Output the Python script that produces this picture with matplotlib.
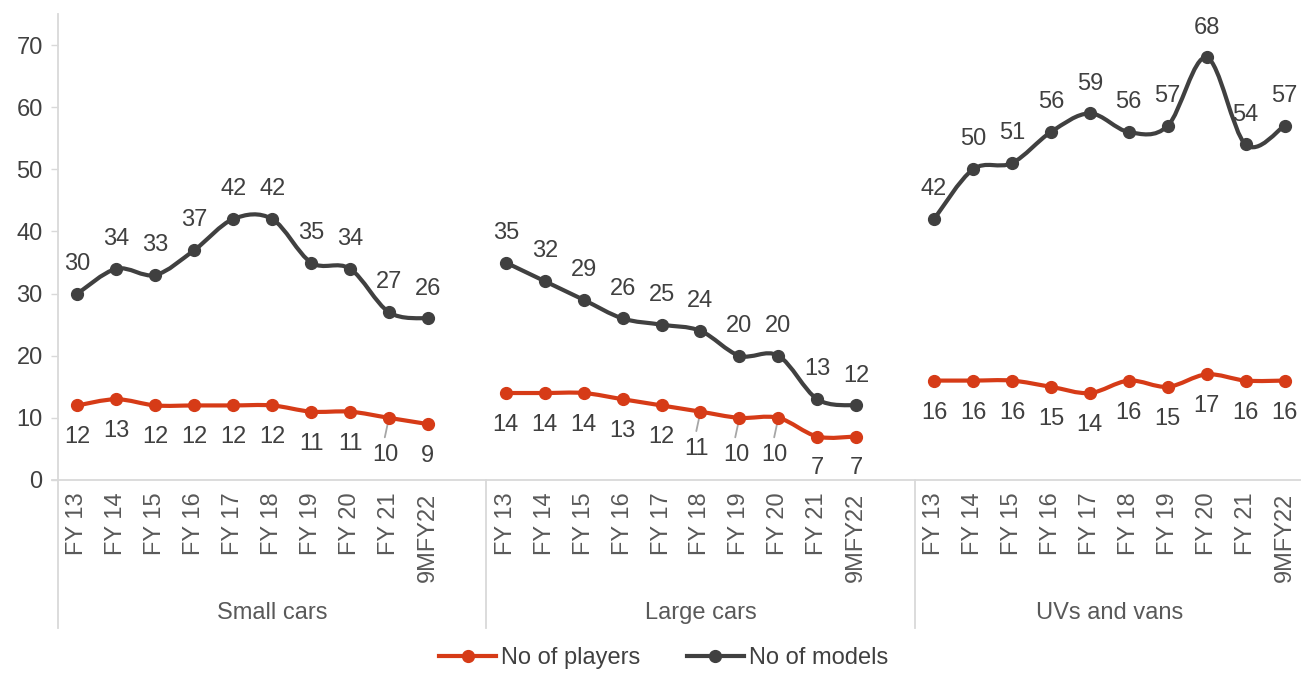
"""Players and models per car segment, FY13 to 9MFY22."""

import matplotlib

matplotlib.use("Agg")
import matplotlib.pyplot as plt
from matplotlib.lines import Line2D
from matplotlib.patches import PathPatch
from matplotlib.path import Path

plt.rcParams["font.family"] = ["Liberation Sans", "DejaVu Sans"]

PERIODS = ["FY 13", "FY 14", "FY 15", "FY 16", "FY 17", "FY 18", "FY 19", "FY 20", "FY 21", "9MFY22"]
SEGMENTS = ["Small cars", "Large cars", "UVs and vans"]

small_players = [12, 13, 12, 12, 12, 12, 11, 11, 10, 9]
small_models = [30, 34, 33, 37, 42, 42, 35, 34, 27, 26]
large_players = [14, 14, 14, 13, 12, 11, 10, 10, 7, 7]
large_models = [35, 32, 29, 26, 25, 24, 20, 20, 13, 12]
uv_players = [16, 16, 16, 15, 14, 16, 15, 17, 16, 16]
uv_models = [42, 50, 51, 56, 59, 56, 57, 68, 54, 57]

PLAYERS_COLOR = "#D63B17"
MODELS_COLOR = "#404040"
TEXT_COLOR = "#404040"
AXIS_COLOR = "#D9D9D9"
FS = 17


def smooth_path(xs, ys):
    # Catmull-Rom style bezier, like spreadsheet "smoothed line"
    pts = list(zip(xs, ys))
    verts = [pts[0]]
    codes = [Path.MOVETO]
    n = len(pts)
    for i in range(n - 1):
        p0 = pts[max(i - 1, 0)]
        p1 = pts[i]
        p2 = pts[i + 1]
        p3 = pts[min(i + 2, n - 1)]
        c1 = (p1[0] + (p2[0] - p0[0]) / 6, p1[1] + (p2[1] - p0[1]) / 6)
        c2 = (p2[0] - (p3[0] - p1[0]) / 6, p2[1] - (p3[1] - p1[1]) / 6)
        verts += [c1, c2, p2]
        codes += [Path.CURVE4] * 3
    return Path(verts, codes)


fig = plt.figure(figsize=(13.01, 6.73), dpi=100)
ax = fig.add_axes([58 / 1301, 1 - 480 / 673, 1246 / 1301, 466 / 673])

groups = [
    (small_players, small_models, {8}),
    (large_players, large_models, {5, 6, 7}),
    (uv_players, uv_models, set()),
]

for g, (players, models, leader_idx) in enumerate(groups):
    xs = [g * 11 + i for i in range(len(PERIODS))]
    for vals, color in ((players, PLAYERS_COLOR), (models, MODELS_COLOR)):
        ax.add_patch(PathPatch(smooth_path(xs, vals), facecolor="none", edgecolor=color,
                               linewidth=3, capstyle="round", joinstyle="round", zorder=3))
        ax.plot(xs, vals, "o", color=color, markersize=8.5, zorder=4)
    for i, (x, v) in enumerate(zip(xs, models)):
        ax.annotate(str(v), (x, v), xytext=(0, 21.5), textcoords="offset points",
                    ha="center", va="center", fontsize=FS, color=TEXT_COLOR)
    for i, (x, v) in enumerate(zip(xs, players)):
        if i in leader_idx:
            ax.annotate(str(v), (x, v), xytext=(-2.5, -27), textcoords="offset points",
                        ha="center", va="center", fontsize=FS, color=TEXT_COLOR)
            ax.annotate("", (x, v), xytext=(-3, -14), textcoords="offset points",
                        arrowprops=dict(arrowstyle="-", color="#A6A6A6", lw=1.3,
                                        shrinkA=0, shrinkB=1))
        else:
            ax.annotate(str(v), (x, v), xytext=(0, -23), textcoords="offset points",
                        ha="center", va="center", fontsize=FS, color=TEXT_COLOR)

ax.set_xlim(-0.5, 31.5)
ax.set_ylim(0, 75)
ax.set_yticks(range(0, 80, 10))
ax.tick_params(axis="y", length=5, width=1, color=AXIS_COLOR, labelsize=FS,
               labelcolor=TEXT_COLOR, pad=6)
ax.set_xticks([])
for side in ("top", "right"):
    ax.spines[side].set_visible(False)
for side in ("left", "bottom"):
    ax.spines[side].set_color(AXIS_COLOR)
    ax.spines[side].set_linewidth(1.3)
ax.spines["bottom"].set_bounds(-0.65, 31.5)

# two-level category axis drawn under the plot
trans = ax.get_xaxis_transform()
for g, seg in enumerate(SEGMENTS):
    for i, lab in enumerate(PERIODS):
        ax.text(g * 11 + i, -0.027, lab, transform=trans, rotation=90, ha="center", va="top",
                fontsize=FS, color="#595959")
    ax.text(g * 11 + 4.5 + (0.5 if g < 2 else 0), -0.285, seg, transform=trans,
            ha="center", va="center", fontsize=FS, color="#595959")
for xb in (-0.5, 10.5, 21.5):
    ax.plot([xb, xb], [0, -0.318], transform=trans, color=AXIS_COLOR, lw=1.3, clip_on=False)

handles = [
    Line2D([], [], color=PLAYERS_COLOR, lw=3, marker="o", markersize=8.5),
    Line2D([], [], color=MODELS_COLOR, lw=3, marker="o", markersize=8.5),
]
fig.legend(handles, ["No of players", "No of models"], loc="center",
           bbox_to_anchor=(0.51, 1 - 658 / 673), ncol=2, frameon=False, fontsize=FS,
           handlelength=2.4, handletextpad=0.2, columnspacing=2.0, labelcolor=TEXT_COLOR)

fig.savefig("out.png", dpi=100)
